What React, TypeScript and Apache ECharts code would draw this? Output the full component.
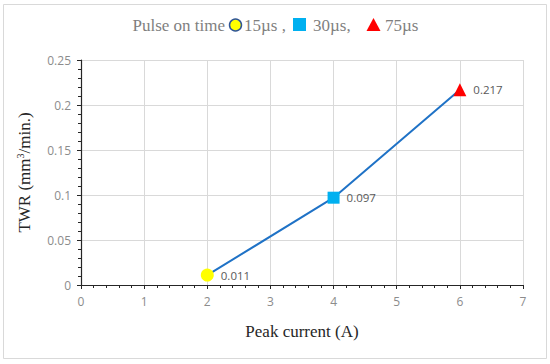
import React, { useEffect, useRef } from "react";
import * as echarts from "echarts";

const peakCurrent = [2, 4, 6];
const twr = [0.011, 0.097, 0.217];
const pulseLabels = ["15µs ,", "30µs,", "75µs"];
const markerSymbols = ["circle", "rect", "triangle"];
const markerColors = ["#ffff00", "#00b0f0", "#ff0000"];
const markerSizes = [13, 12, 13];

export default function App() {
  const ref = useRef<HTMLDivElement>(null);
  useEffect(() => {
    const chart = echarts.init(ref.current!, null, { renderer: "svg" });
    const serif = "'Liberation Serif', 'Times New Roman', serif";
    const sans = "'Open Sans', 'Liberation Sans', sans-serif";
    const legendFont = `17px ${serif}`;
    chart.setOption({
      animation: false,
      backgroundColor: "#ffffff",
      grid: { left: 81, right: 27, top: 60, bottom: 79 },
      graphic: [
        {
          type: "rect",
          shape: { x: 3.5, y: 4.5, width: 543, height: 354 },
          style: { fill: "none", stroke: "#d9d9d9", lineWidth: 1 },
          silent: true,
        },
        {
          type: "text",
          x: 132.5,
          y: 25,
          style: { text: "Pulse on time", font: legendFont, fill: "#7f7f7f", verticalAlign: "middle" },
        },
        {
          type: "circle",
          shape: { cx: 235.5, cy: 25, r: 6 },
          style: { fill: markerColors[0], stroke: "#2f5597", lineWidth: 1.5 },
        },
        {
          type: "text",
          x: 244,
          y: 25,
          style: { text: pulseLabels[0], font: legendFont, fill: "#7f7f7f", verticalAlign: "middle" },
        },
        {
          type: "rect",
          shape: { x: 293, y: 18, width: 13, height: 13 },
          style: { fill: markerColors[1] },
        },
        {
          type: "text",
          x: 313,
          y: 25,
          style: { text: pulseLabels[1], font: legendFont, fill: "#7f7f7f", verticalAlign: "middle" },
        },
        {
          type: "polygon",
          shape: { points: [[373.5, 18], [380.5, 31], [366.5, 31]] },
          style: { fill: markerColors[2] },
        },
        {
          type: "text",
          x: 385,
          y: 25,
          style: { text: pulseLabels[2], font: legendFont, fill: "#7f7f7f", verticalAlign: "middle" },
        },
      ],
      xAxis: {
        type: "value",
        min: 0,
        max: 7,
        interval: 1,
        name: "Peak current (A)",
        nameLocation: "middle",
        nameGap: 38,
        nameTextStyle: { fontFamily: serif, fontSize: 17, color: "#262626" },
        axisLine: { show: true, onZero: false, lineStyle: { color: "#262626", width: 1.2 } },
        axisTick: { show: true, length: 4, lineStyle: { color: "#262626" } },
        minorTick: { show: true, splitNumber: 5, length: 3, lineStyle: { color: "#262626" } },
        axisLabel: { fontFamily: sans, fontSize: 12, color: "#8c8c8c", margin: 10 },
        splitLine: { show: true, lineStyle: { color: "#d9d9d9", width: 1 } },
      },
      yAxis: {
        type: "value",
        min: 0,
        max: 0.25,
        interval: 0.05,
        name: "{a|TWR (mm}{s|3}{a|/min.)}",
        nameLocation: "middle",
        nameGap: 48,
        nameTextStyle: {
          fontFamily: serif,
          fontSize: 17,
          color: "#262626",
          rich: {
            a: { fontFamily: serif, fontSize: 17, color: "#262626" },
            s: { fontFamily: serif, fontSize: 10, color: "#262626", verticalAlign: "top", padding: [0, 0, 8, 0] },
          },
        },
        axisLine: { show: true, lineStyle: { color: "#262626", width: 1.2 } },
        axisTick: { show: true, length: 4, lineStyle: { color: "#262626" } },
        minorTick: { show: true, splitNumber: 5, length: 3, lineStyle: { color: "#262626" } },
        axisLabel: { fontFamily: sans, fontSize: 12, color: "#8c8c8c", margin: 10 },
        splitLine: { show: true, lineStyle: { color: "#d9d9d9", width: 1 } },
      },
      series: [
        {
          type: "line",
          data: peakCurrent.map((x, i) => ({
            value: [x, twr[i]],
            symbol: markerSymbols[i],
            symbolSize: markerSizes[i],
            itemStyle: { color: markerColors[i], borderWidth: 0 },
          })),
          showAllSymbol: true,
          lineStyle: { color: "#1f72c6", width: 2 },
          label: {
            show: true,
            position: "right",
            distance: 7,
            fontFamily: sans,
            fontSize: 11.5,
            color: "#595959",
            formatter: (p: any) => String(p.value[1]),
          },
          z: 3,
        },
      ],
    });
    return () => chart.dispose();
  }, []);
  return (
    <div
      ref={ref}
      style={{ position: "fixed", left: 0, top: 0, width: 550, height: 364 }}
    />
  );
}
